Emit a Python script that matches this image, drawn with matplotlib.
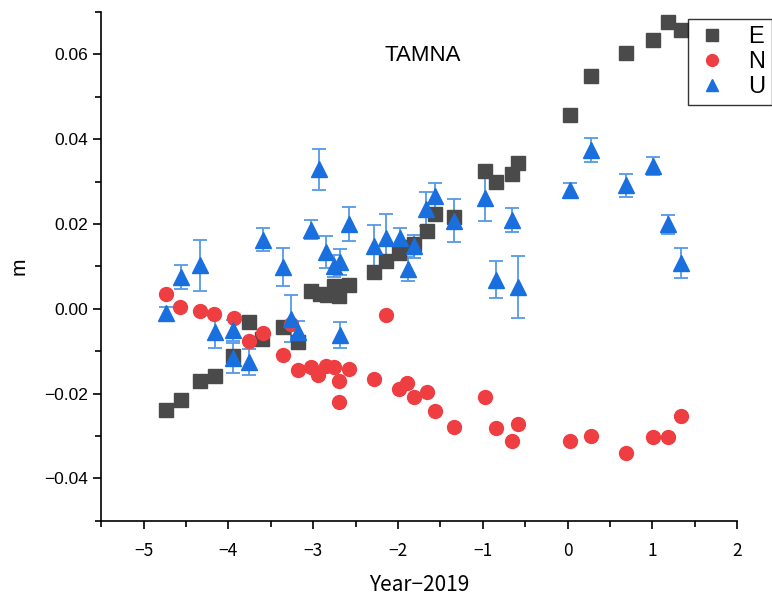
import matplotlib.pyplot as plt
from matplotlib.ticker import MultipleLocator

# E component (gray squares)
e_x = [-4.74, -4.56, -4.33, -4.16, -3.94, -3.76, -3.60, -3.35, -3.18, -3.02,
       -2.92, -2.84, -2.75, -2.69, -2.58, -2.28, -2.14, -1.99, -1.88, -1.81,
       -1.66, -1.56, -1.34, -0.98, -0.84, -0.66, -0.59, 0.03, 0.27, 0.69,
       1.01, 1.18, 1.34]
e_y = [-0.0238, -0.0215, -0.0170, -0.0158, -0.0111, -0.0031, -0.0071, -0.0042, -0.0078, 0.0042,
       0.0035, 0.0033, 0.0054, 0.0031, 0.0057, 0.0088, 0.0112, 0.0131, 0.0145, 0.0153,
       0.0183, 0.0223, 0.0217, 0.0324, 0.0300, 0.0318, 0.0343, 0.0456, 0.0550, 0.0603,
       0.0634, 0.0677, 0.0658]

# N component (red circles)
n_x = [-4.74, -4.57, -4.33, -4.17, -3.93, -3.76, -3.59, -3.35, -3.26, -3.18,
       -3.02, -2.94, -2.85, -2.76, -2.69, -2.69, -2.58, -2.28, -2.14, -1.99,
       -1.89, -1.81, -1.66, -1.56, -1.34, -0.98, -0.84, -0.66, -0.59, 0.03,
       0.27, 0.69, 1.01, 1.18, 1.34]
n_y = [0.0036, 0.0005, -0.0005, -0.0013, -0.0021, -0.0076, -0.0056, -0.0110, -0.0035, -0.0145,
       -0.0137, -0.0156, -0.0134, -0.0137, -0.0169, -0.0220, -0.0142, -0.0165, -0.0015, -0.0188,
       -0.0174, -0.0208, -0.0196, -0.0240, -0.0278, -0.0208, -0.0281, -0.0311, -0.0272, -0.0312,
       -0.0300, -0.0339, -0.0303, -0.0302, -0.0253]

# U component (blue triangles, with error)
u_x = [-4.74, -4.56, -4.33, -4.16, -3.94, -3.94, -3.76, -3.59, -3.35, -3.26,
       -3.18, -3.02, -2.93, -2.85, -2.76, -2.68, -2.68, -2.58, -2.28, -2.14,
       -1.98, -1.88, -1.81, -1.67, -1.56, -1.34, -0.98, -0.84, -0.66, -0.59,
       0.03, 0.27, 0.69, 1.01, 1.18, 1.34]
u_y = [-0.0011, 0.0075, 0.0103, -0.0054, -0.0051, -0.0116, -0.0126, 0.0163, 0.0099, -0.0023,
       -0.0054, 0.0187, 0.0329, 0.0134, 0.0101, 0.0111, -0.0061, 0.0201, 0.0149, 0.0166,
       0.0167, 0.0094, 0.0147, 0.0236, 0.0266, 0.0208, 0.0262, 0.0069, 0.0209, 0.0052,
       0.0280, 0.0375, 0.0291, 0.0337, 0.0199, 0.0108]
u_err = [0.0016, 0.0029, 0.0060, 0.0039, 0.0024, 0.0035, 0.0031, 0.0027, 0.0045, 0.0055,
         0.0025, 0.0023, 0.0048, 0.0037, 0.0025, 0.0031, 0.0031, 0.0040, 0.0048, 0.0057,
         0.0023, 0.0028, 0.0026, 0.0040, 0.0031, 0.0050, 0.0055, 0.0044, 0.0028, 0.0073,
         0.0017, 0.0028, 0.0028, 0.0021, 0.0022, 0.0035]

fig = plt.figure(figsize=(7.72, 5.96), dpi=100)
ax = fig.add_axes([0.131, 0.126, 0.824, 0.854])

ax.errorbar(u_x, u_y, yerr=u_err, fmt='none', ecolor='#5599ea', elinewidth=1.3,
            capsize=5, capthick=1.3, zorder=1)
ax.plot(e_x, e_y, 's', color='#4a4a4a', markersize=10, label='E', zorder=2)
ax.plot(n_x, n_y, 'o', color='#ef3e42', markersize=10, label='N', zorder=3)
ax.plot(u_x, u_y, '^', color='#1a6fdf', markersize=11, label='U', zorder=4)

ax.set_xlim(-5.5, 2)
ax.set_ylim(-0.05, 0.07)
ax.xaxis.set_minor_locator(MultipleLocator(0.5))
ax.yaxis.set_minor_locator(MultipleLocator(0.01))
ax.set_yticks([-0.04, -0.02, 0.0, 0.02, 0.04, 0.06])
ax.set_yticklabels(['\u22120.04', '\u22120.02', '0.00', '0.02', '0.04', '0.06'],
                   family='Liberation Sans')
ax.set_xticks([-5, -4, -3, -2, -1, 0, 1, 2])
ax.set_xticklabels(['\u22125', '\u22124', '\u22123', '\u22122', '\u22121', '0', '1', '2'],
                   family=['Noto Sans CJK JP', 'DejaVu Sans'])

for s in ['top', 'right']:
    ax.spines[s].set_visible(False)
for s in ['left', 'bottom']:
    ax.spines[s].set_linewidth(1.2)
ax.tick_params(which='major', direction='out', length=6, width=1.2, labelsize=12.5)
ax.tick_params(axis='x', which='major', pad=9)
ax.tick_params(which='minor', direction='out', length=4, width=1.2)

ax.set_xlabel('Year\u22122019', fontsize=15, labelpad=10,
              family=['Noto Sans CJK JP', 'DejaVu Sans'])
ax.set_ylabel('m', fontsize=15, labelpad=11, family='Liberation Sans')
ax.text(0.505, 0.915, 'TAMNA', transform=ax.transAxes, ha='center', va='center',
        fontsize=16, family='Liberation Sans')

leg = ax.legend(loc='upper right', bbox_to_anchor=(1.0, 0.968),
                bbox_transform=fig.transFigure, fancybox=False, edgecolor='black',
                handlelength=1.5, handletextpad=0.75, borderpad=0.3, labelspacing=0.12,
                borderaxespad=0.0, markerscale=0.85,
                prop={'family': 'Liberation Sans', 'size': 17})
leg.get_frame().set_linewidth(1.0)

fig.savefig('out.png', dpi=100)
